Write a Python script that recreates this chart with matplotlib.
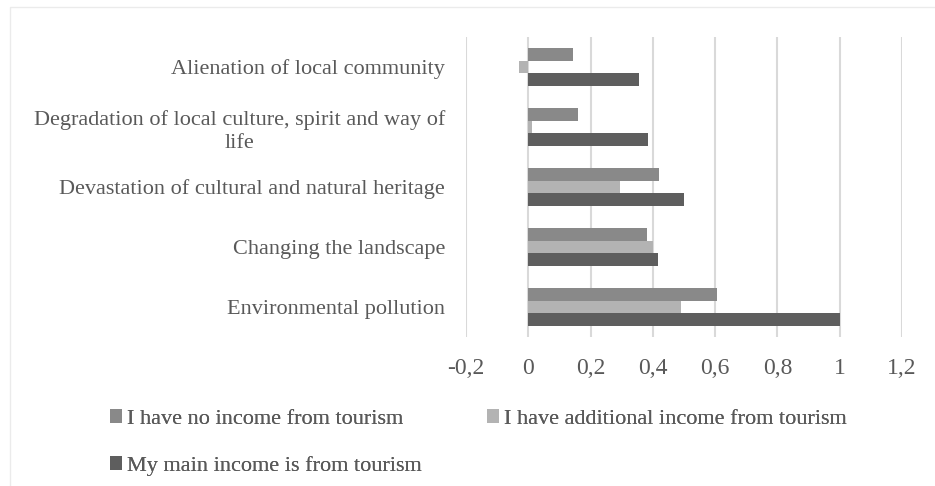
import matplotlib
matplotlib.use("Agg")
import matplotlib.pyplot as plt
import numpy as np
from matplotlib.patches import Rectangle

categories = ["Environmental pollution",
              "Changing the landscape",
              "Devastation of cultural and natural heritage",
              "Degradation of local culture, spirit and way of\nlife",
              "Alienation of local community"]
no_income = [0.605, 0.381, 0.42, 0.16, 0.143]
additional_income = [0.49, 0.40, 0.295, 0.013, -0.029]
main_income = [1.0, 0.417, 0.50, 0.384, 0.357]
series_labels = ["I have no income from tourism",
                 "I have additional income from tourism",
                 "My main income is from tourism"]
xticks = [-0.2, 0, 0.2, 0.4, 0.6, 0.8, 1.0, 1.2]
xticklabels = ["-0,2", "0", "0,2", "0,4", "0,6", "0,8", "1", "1,2"]

colors = ["#898989", "#b3b3b3", "#5e5e5e"]
text_color = "#595959"
plt.rcParams['font.family'] = ['Liberation Serif', 'DejaVu Serif']

fig = plt.figure(figsize=(9.35, 4.86), dpi=100)
ax = fig.add_axes([466/935, 1-337/486, (902-466)/935, (337-37)/486])

y = np.arange(len(categories))
h = 0.207
b1 = ax.barh(y + h, no_income, height=h, color=colors[0], label=series_labels[0])
b2 = ax.barh(y, additional_income, height=h, color=colors[1], label=series_labels[1])
b3 = ax.barh(y - h, main_income, height=h, color=colors[2], label=series_labels[2])

ax.set_xlim(-0.2, 1.2)
ax.set_ylim(-0.5, 4.5)
ax.set_xticks(xticks)
ax.set_xticklabels(xticklabels, fontsize=17, color=text_color)
ax.set_yticks(y)
ax.set_yticklabels(categories, fontsize=16, color=text_color, linespacing=1.3)
for t in ax.get_yticklabels():
    t.set_multialignment('center')
ax.tick_params(axis='x', length=0, pad=15)
ax.tick_params(axis='y', length=0, pad=15)
for s in ax.spines.values():
    s.set_visible(False)
ax.grid(axis='x', color='#d9d9d9', linewidth=1.5)
ax.set_axisbelow(True)

# outer chart border
fig.patches.append(Rectangle((10/935, -0.1), 1.2, 1.1 - 7/486, transform=fig.transFigure,
                             fill=False, edgecolor='#ebebeb', linewidth=1))

leg_kw = dict(frameon=False, fontsize=16, handlelength=0.55, handleheight=0.55,
              handletextpad=0.2, borderpad=0, borderaxespad=0, labelcolor=text_color)
positions = [(110/935, 1-419/486), (487/935, 1-419/486), (110/935, 1-466/486)]
for bar, lab, pos in zip([b1, b2, b3], series_labels, positions):
    lg = fig.legend([bar], [lab], loc='center left', bbox_to_anchor=pos, **leg_kw)
    fig.add_artist(lg)

fig.savefig("out.png", dpi=100)
